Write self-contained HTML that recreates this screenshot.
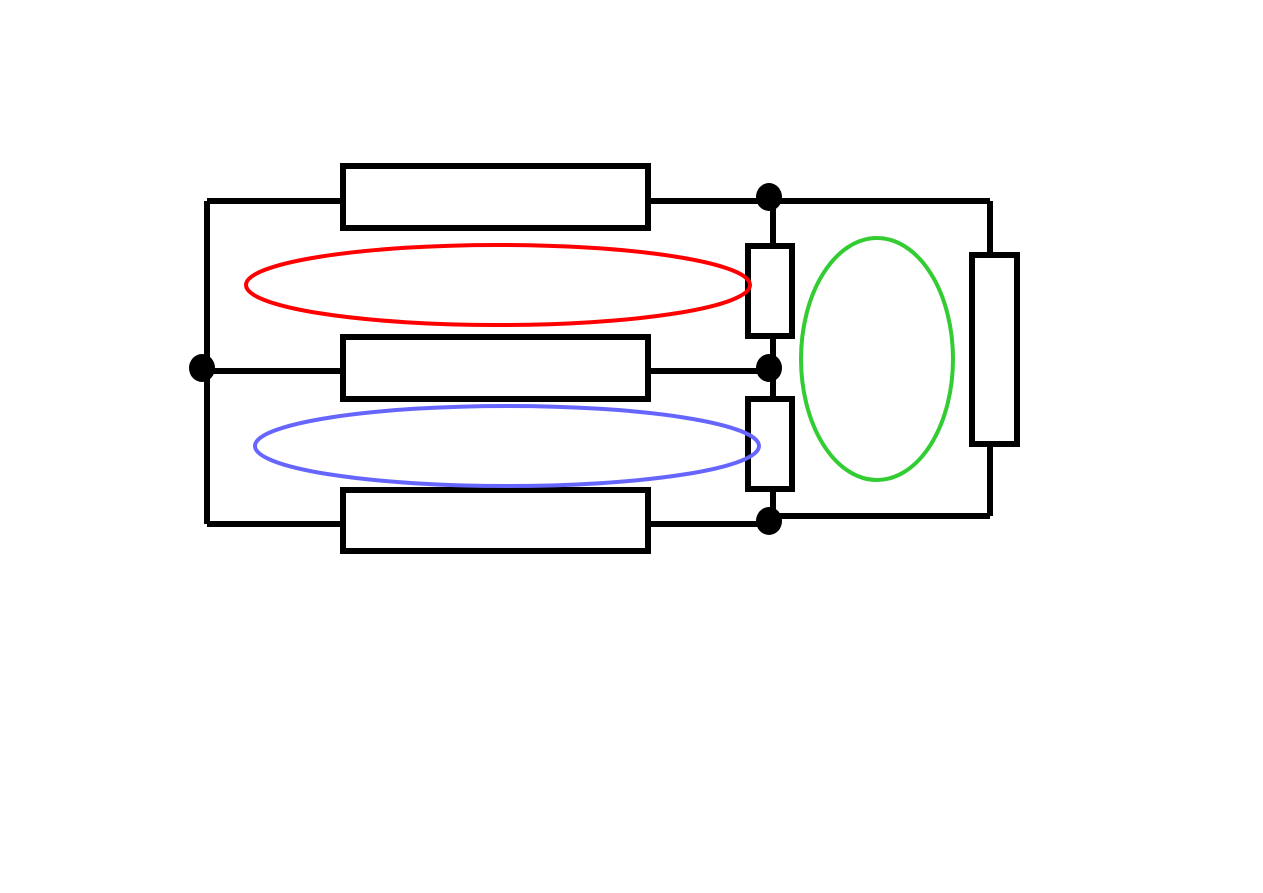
<!DOCTYPE html>
<html><head><meta charset="utf-8"><style>html,body{margin:0;padding:0;background:#fff;}svg{display:block;}</style></head>
<body>
<svg width="1263" height="893" viewBox="0 0 1263 893" xmlns="http://www.w3.org/2000/svg">
<g fill="none" stroke="#000" stroke-width="6">
<line x1="207" y1="201" x2="207" y2="524"/>
<line x1="207" y1="201" x2="343" y2="201"/>
<line x1="648" y1="201" x2="990" y2="201"/>
<line x1="207" y1="371" x2="343" y2="371"/>
<line x1="648" y1="371" x2="773" y2="371"/>
<line x1="207" y1="524" x2="343" y2="524"/>
<line x1="648" y1="524" x2="773" y2="524"/>
<line x1="773" y1="201" x2="773" y2="246"/>
<line x1="773" y1="336" x2="773" y2="399"/>
<line x1="773" y1="489" x2="773" y2="524"/>
<line x1="773" y1="516" x2="990" y2="516"/>
<line x1="990" y1="201" x2="990" y2="255"/>
<line x1="990" y1="444" x2="990" y2="516"/>
<rect x="343" y="166" width="305" height="62" fill="#fff"/>
<rect x="343" y="337" width="305" height="62" fill="#fff"/>
<rect x="343" y="490" width="305" height="61" fill="#fff"/>
<rect x="748" y="246" width="44" height="90" fill="#fff"/>
<rect x="748" y="399" width="44" height="90" fill="#fff"/>
<rect x="972" y="255" width="45" height="189" fill="#fff"/>
</g>
<g fill="#000">
<ellipse cx="769" cy="197" rx="13" ry="14"/>
<ellipse cx="769" cy="368" rx="13" ry="14"/>
<ellipse cx="769" cy="521" rx="13" ry="14"/>
<ellipse cx="202" cy="368" rx="13" ry="14"/>
</g>
<ellipse cx="498" cy="285" rx="252" ry="40" fill="none" stroke="#ff0000" stroke-width="4"/>
<ellipse cx="507" cy="446" rx="252" ry="40" fill="none" stroke="#6666ff" stroke-width="4"/>
<ellipse cx="877" cy="359" rx="76" ry="121" fill="none" stroke="#33cc33" stroke-width="4"/>
</svg>
</body></html>
